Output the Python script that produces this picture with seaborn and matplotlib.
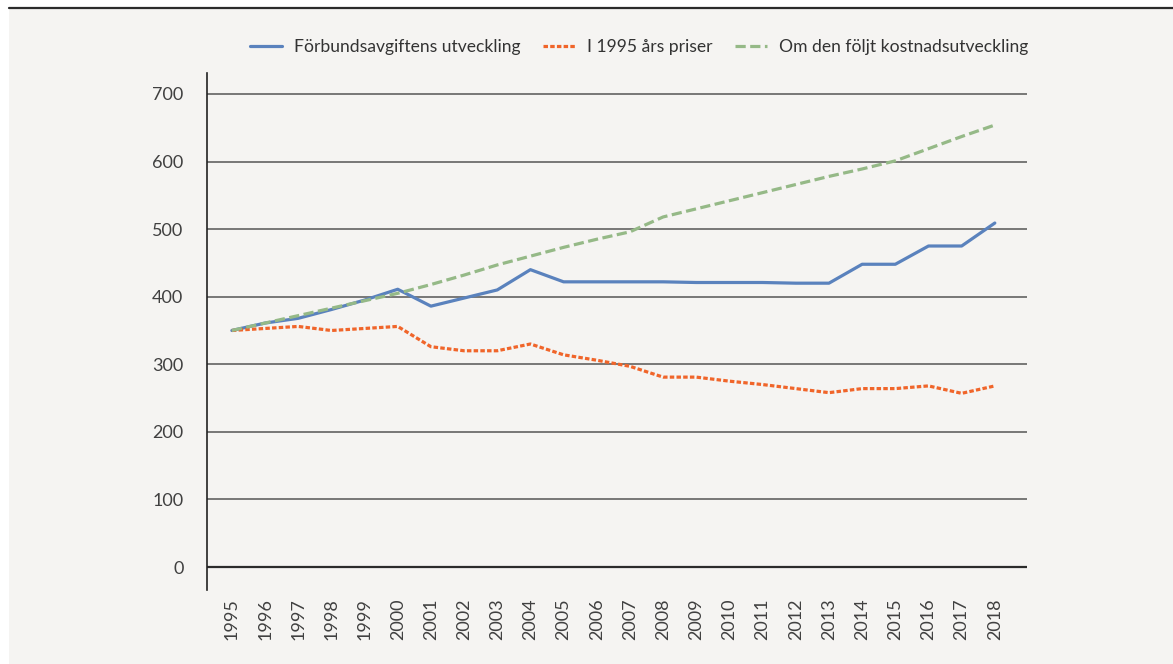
import numpy as np
import pandas as pd
import seaborn as sns
import matplotlib.pyplot as plt
from matplotlib.patches import Rectangle
from matplotlib.lines import Line2D

years = list(range(1995, 2019))
avgift = [350, 361, 368, 381, 395, 411, 386, 398, 410, 440, 422, 422, 422, 422,
          421, 421, 421, 420, 420, 448, 448, 475, 475, 509]
priser = [350, 353, 356, 350, 353, 356, 326, 320, 320, 330, 314, 306, 297, 281,
          281, 275, 270, 264, 258, 264, 264, 268, 257, 268]
kostnad = [350, 361, 372, 383, 394, 405, 418, 432, 447, 460, 473, 485, 496, 518,
           530, 542, 554, 566, 578, 589, 601, 619, 637, 654]
names = ["Förbundsavgiftens utveckling", "I 1995 års priser",
         "Om den följt kostnadsutveckling"]

df = pd.DataFrame({"year": years, names[0]: avgift, names[1]: priser,
                   names[2]: kostnad})
long = df.melt(id_vars="year", var_name="serie", value_name="value")

sns.set_style("white")
plt.rcParams['font.family'] = ['Lato', 'DejaVu Sans']

bg = "#f5f4f2"
colors = {names[0]: "#5a82bd", names[1]: "#f0652a", names[2]: "#95b987"}
dashes = {names[0]: "", names[1]: (1.4, 0.7), names[2]: (3.2, 1.4)}

fig = plt.figure(figsize=(11.73, 6.64), dpi=100, facecolor="white")
fig.patches.append(Rectangle((9 / 1173, 0), 1, 1 - 8 / 664, transform=fig.transFigure,
                             facecolor=bg, edgecolor="none", zorder=0))
fig.lines.append(Line2D([9 / 1173, 1], [1 - 8 / 664, 1 - 8 / 664], transform=fig.transFigure,
                        color="#2b2b2b", lw=1.6))

ax = fig.add_axes([207 / 1173, 1 - 590 / 664, 820 / 1173, 517 / 664])
ax.set_zorder(5)
ax.set_facecolor(bg)

sns.lineplot(data=long, x="year", y="value", hue="serie", style="serie",
             palette=colors, dashes=dashes, linewidth=2.3, ax=ax, legend=False)

ax.set_xlim(1994.25, 2018.97)
ax.set_ylim(-34, 731)
ax.set_yticks(range(0, 701, 100))
ax.set_xticks(years)
ax.set_xticklabels([str(y) for y in years], rotation=90)
ax.tick_params(axis="both", labelsize=13, colors="#404040", length=0)
ax.tick_params(axis="y", pad=17)
ax.tick_params(axis="x", pad=6)
for y in range(0, 701, 100):
    ax.axhline(y, color="#2b2b2b" if y == 0 else "#555555",
               lw=1.6 if y == 0 else 1.1, zorder=1)
for s in ["top", "right", "bottom"]:
    ax.spines[s].set_visible(False)
ax.spines["left"].set_color("#222222")
ax.spines["left"].set_linewidth(1.2)
ax.set_xlabel("")
ax.set_ylabel("")

handles = [Line2D([], [], color=colors[n], lw=2.3,
                  linestyle=(0, dashes[n]) if dashes[n] else "-") for n in names]
ax.legend(handles, names, loc="center", bbox_to_anchor=(0.527, 1.05), ncol=3,
          frameon=False, fontsize=12.6, handlelength=1.8, handletextpad=0.7,
          columnspacing=1.3, labelcolor="#333333")

fig.savefig("out.png", dpi=100, facecolor=fig.get_facecolor())
